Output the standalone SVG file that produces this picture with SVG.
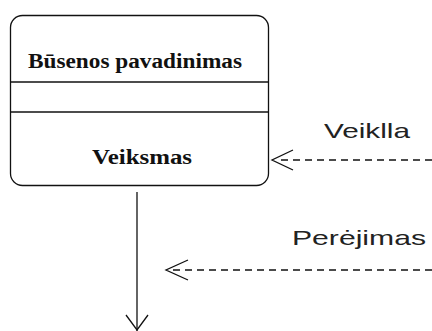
<svg xmlns="http://www.w3.org/2000/svg" width="432" height="331" viewBox="0 0 432 331">
<style>
.ser{font-family:"Liberation Serif","DejaVu Serif",serif;font-weight:bold;font-size:20px;fill:#111}
.san{font-family:"Liberation Sans",Arial,sans-serif;font-size:21px;fill:#222}
.ln{stroke:#111;stroke-width:1.3;fill:none}
.dash{stroke:#111;stroke-width:1.3;fill:none;stroke-dasharray:7 5}
</style>
<rect width="432" height="331" fill="#fff"/>
<g id="state">
<rect x="10.5" y="15.5" width="258" height="170" rx="12" ry="12" class="ln"/>
<line x1="10.5" y1="82" x2="268.5" y2="82" class="ln"/>
<line x1="10.5" y1="112" x2="268.5" y2="112" class="ln"/>
<text x="28" y="68" textLength="214" lengthAdjust="spacingAndGlyphs" class="ser">Būsenos pavadinimas</text>
<text x="92" y="164" textLength="100" lengthAdjust="spacingAndGlyphs" class="ser">Veiksmas</text>
</g>
<g id="connectors">
<line x1="137" y1="192" x2="137" y2="331" class="ln"/>
<polyline points="126,315 137,330 148,315" class="ln"/>
<line x1="432" y1="160" x2="276" y2="160" class="dash"/>
<polyline points="293,150 272,160 293,170" class="ln"/>
<line x1="432" y1="270" x2="170" y2="270" class="dash"/>
<polyline points="188,260 166,270 188,280" class="ln"/>
</g>
<g id="labels">
<text x="324" y="138" textLength="86" lengthAdjust="spacingAndGlyphs" class="san">Veiklla</text>
<text x="292" y="245" textLength="134" lengthAdjust="spacingAndGlyphs" class="san">Perėjimas</text>
</g>
</svg>
